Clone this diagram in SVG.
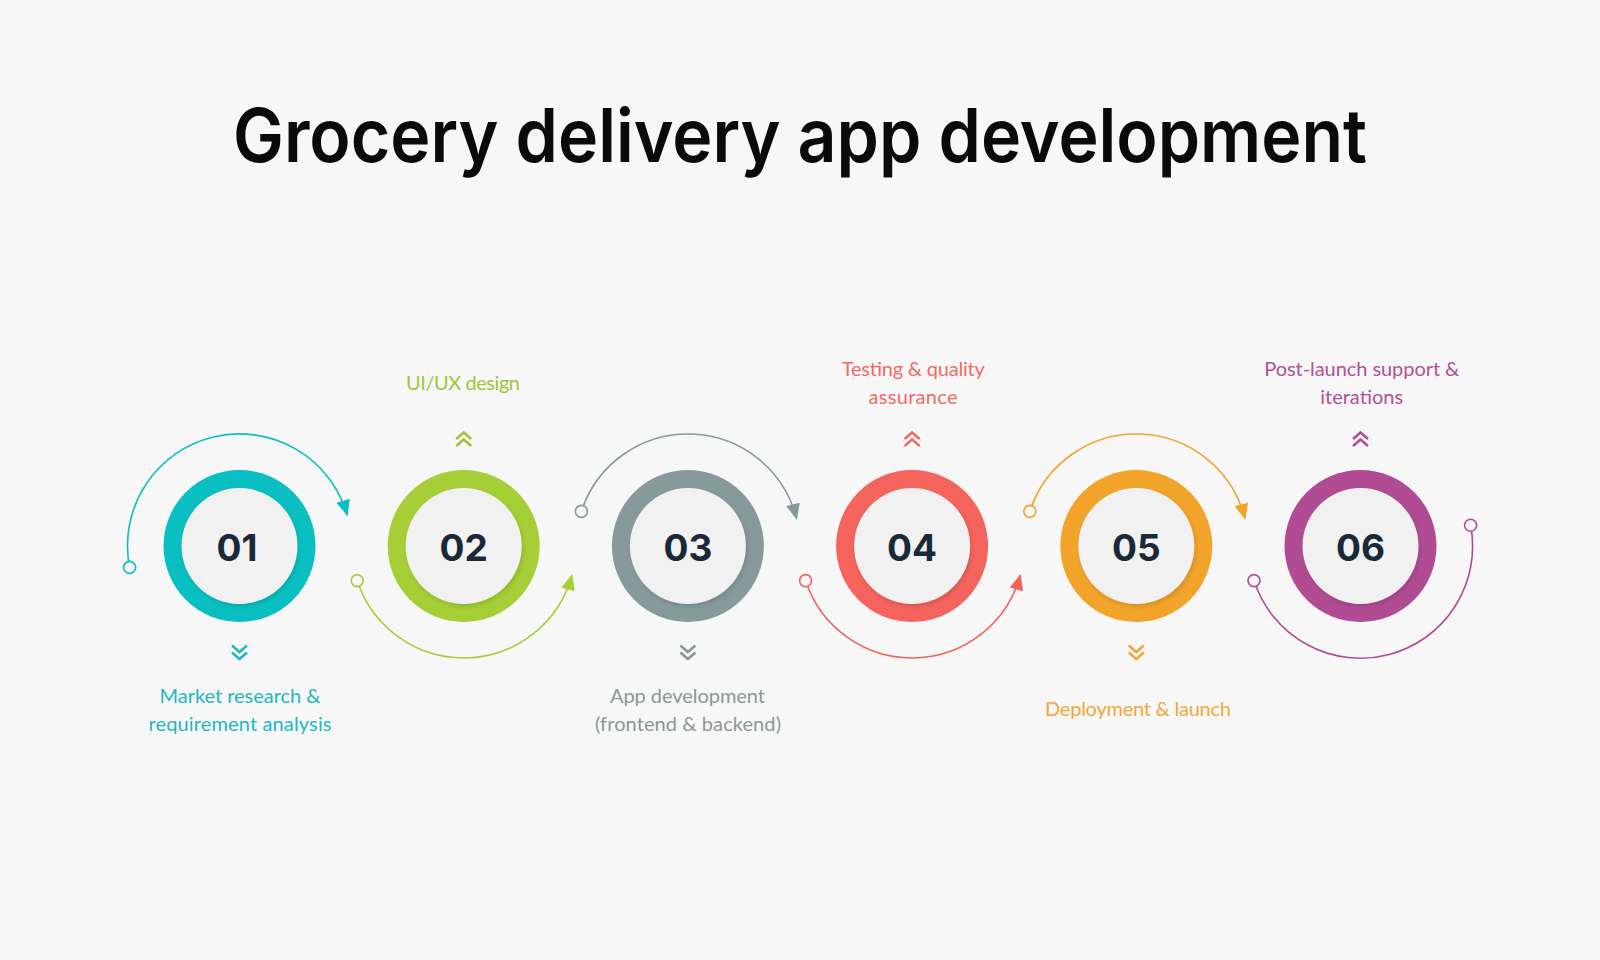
<svg xmlns="http://www.w3.org/2000/svg" width="1600" height="960" viewBox="0 0 1600 960">
<defs>
<style>
.title{font-family:Inter,"Liberation Sans",sans-serif;font-weight:600;font-size:74px;fill:#0a0a0a;}
.num{font-family:Inter,"Liberation Sans",sans-serif;font-weight:700;font-size:37px;fill:#1b2838;text-anchor:middle;}
.lbl{font-family:Lato,"Liberation Sans",sans-serif;font-size:20px;text-anchor:middle;}
.inner{fill:#f1f1f2;filter:url(#sh);}
.chev{fill:none;stroke-width:2.6;stroke-linejoin:miter;}
.arc{fill:none;stroke-width:1.6;}
.dot{fill:#f8f7f7;stroke-width:1.6;}
</style>
<filter id="sh" x="-20%" y="-20%" width="140%" height="140%">
<feDropShadow dx="1.5" dy="2.5" stdDeviation="2" flood-color="#000" flood-opacity="0.13"/>
</filter>
<marker id="aT" viewBox="0 0 16 14" refX="15" refY="7" markerWidth="16" markerHeight="14" markerUnits="userSpaceOnUse" orient="auto"><path d="M0,0 L16,7 L0,14 z" fill="#0abfc1"/></marker>
<marker id="aG" viewBox="0 0 16 14" refX="15" refY="7" markerWidth="16" markerHeight="14" markerUnits="userSpaceOnUse" orient="auto"><path d="M0,0 L16,7 L0,14 z" fill="#a5ce37"/></marker>
<marker id="aY" viewBox="0 0 16 14" refX="15" refY="7" markerWidth="16" markerHeight="14" markerUnits="userSpaceOnUse" orient="auto"><path d="M0,0 L16,7 L0,14 z" fill="#879a9a"/></marker>
<marker id="aR" viewBox="0 0 16 14" refX="15" refY="7" markerWidth="16" markerHeight="14" markerUnits="userSpaceOnUse" orient="auto"><path d="M0,0 L16,7 L0,14 z" fill="#f4645d"/></marker>
<marker id="aO" viewBox="0 0 16 14" refX="15" refY="7" markerWidth="16" markerHeight="14" markerUnits="userSpaceOnUse" orient="auto"><path d="M0,0 L16,7 L0,14 z" fill="#f2a42a"/></marker>
</defs>
<rect width="1600" height="960" fill="#f8f7f7"/>
<text id="title" class="title" x="800" y="162" text-anchor="middle" textLength="1134" lengthAdjust="spacingAndGlyphs">Grocery delivery app development</text>

<g id="connectors">
<path class="arc" stroke="#0abfc1" d="M129.6 567.4 A112 112 0 0 1 347.2 515.1" marker-end="url(#aT)"/>
<circle class="dot" stroke="#0abfc1" cx="129.6" cy="567.4" r="6"/>
<path class="arc" stroke="#a5ce37" d="M357.2 580.6 A112 112 0 0 0 571.9 575" marker-end="url(#aG)"/>
<circle class="dot" stroke="#a5ce37" cx="357.2" cy="580.6" r="6"/>
<path class="arc" stroke="#879a9a" d="M581.4 511.4 A112 112 0 0 1 796.6 518.9" marker-end="url(#aY)"/>
<circle class="dot" stroke="#879a9a" cx="581.4" cy="511.4" r="6"/>
<path class="arc" stroke="#f4645d" d="M805.6 580.6 A112 112 0 0 0 1020.3 575" marker-end="url(#aR)"/>
<circle class="dot" stroke="#f4645d" cx="805.6" cy="580.6" r="6"/>
<path class="arc" stroke="#f2a42a" d="M1029.8 511.4 A112 112 0 0 1 1245 518.9" marker-end="url(#aO)"/>
<circle class="dot" stroke="#f2a42a" cx="1029.8" cy="511.4" r="6"/>
<path class="arc" stroke="#b14c94" d="M1254 580.6 A112 112 0 0 0 1470.6 525.2"/>
<circle class="dot" stroke="#b14c94" cx="1254" cy="580.6" r="6"/>
<circle class="dot" stroke="#b14c94" cx="1470.6" cy="525.2" r="6"/>
</g>

<g id="step01">
<circle cx="239.5" cy="546" r="76" fill="#0abfc1"/>
<circle class="inner" cx="239.5" cy="546" r="58"/>
<text class="num" x="237" y="561">01</text>
<path class="chev" stroke="#1eb8be" d="M232 645.5 L239.5 652 L247 645.5 M232 652.5 L239.5 659 L247 652.5"/>
<text class="lbl" fill="#1eb8be" x="240" y="703" textLength="161" lengthAdjust="spacing">Market research &amp;</text>
<text class="lbl" fill="#1eb8be" x="240" y="730.5" textLength="183" lengthAdjust="spacing">requirement analysis</text>
</g>

<g id="step02">
<circle cx="463.7" cy="546" r="76" fill="#a5ce37"/>
<circle class="inner" cx="463.7" cy="546" r="58"/>
<text class="num" x="463.7" y="561">02</text>
<path class="chev" stroke="#9cc63b" d="M456.2 439 L463.7 432.5 L471.2 439 M456.2 446 L463.7 439.5 L471.2 446"/>
<text class="lbl" fill="#9cc63b" x="463" y="389.5" textLength="114" lengthAdjust="spacing">UI/UX design</text>
</g>

<g id="step03">
<circle cx="687.9" cy="546" r="76" fill="#879a9a"/>
<circle class="inner" cx="687.9" cy="546" r="58"/>
<text class="num" x="687.9" y="561">03</text>
<path class="chev" stroke="#8c9797" d="M680.4 645.5 L687.9 652 L695.4 645.5 M680.4 652.5 L687.9 659 L695.4 652.5"/>
<text class="lbl" fill="#8c9797" x="687.5" y="703" textLength="155" lengthAdjust="spacing">App development</text>
<text class="lbl" fill="#8c9797" x="688" y="730.5" textLength="186" lengthAdjust="spacing">(frontend &amp; backend)</text>
</g>

<g id="step04">
<circle cx="912.1" cy="546" r="76" fill="#f4645d"/>
<circle class="inner" cx="912.1" cy="546" r="58"/>
<text class="num" x="912.1" y="561">04</text>
<path class="chev" stroke="#ee6b63" d="M904.6 439 L912.1 432.5 L919.6 439 M904.6 446 L912.1 439.5 L919.6 446"/>
<text class="lbl" fill="#ee6b63" x="913.3" y="376" textLength="143" lengthAdjust="spacing">Testing &amp; quality</text>
<text class="lbl" fill="#ee6b63" x="913" y="403.5" textLength="89" lengthAdjust="spacing">assurance</text>
</g>

<g id="step05">
<circle cx="1136.3" cy="546" r="76" fill="#f2a42a"/>
<circle class="inner" cx="1136.3" cy="546" r="58"/>
<text class="num" x="1136.3" y="561">05</text>
<path class="chev" stroke="#f0a73a" d="M1128.8 645.5 L1136.3 652 L1143.8 645.5 M1128.8 652.5 L1136.3 659 L1143.8 652.5"/>
<text class="lbl" fill="#f0a73a" x="1138" y="716" textLength="186" lengthAdjust="spacing">Deployment &amp; launch</text>
</g>

<g id="step06">
<circle cx="1360.5" cy="546" r="76" fill="#b14c94"/>
<circle class="inner" cx="1360.5" cy="546" r="58"/>
<text class="num" x="1360.5" y="561">06</text>
<path class="chev" stroke="#b25191" d="M1353 439 L1360.5 432.5 L1368 439 M1353 446 L1360.5 439.5 L1368 446"/>
<text class="lbl" fill="#b25191" x="1361.8" y="376" textLength="195" lengthAdjust="spacing">Post-launch support &amp;</text>
<text class="lbl" fill="#b25191" x="1361.7" y="403.5" textLength="83" lengthAdjust="spacing">iterations</text>
</g>
</svg>
